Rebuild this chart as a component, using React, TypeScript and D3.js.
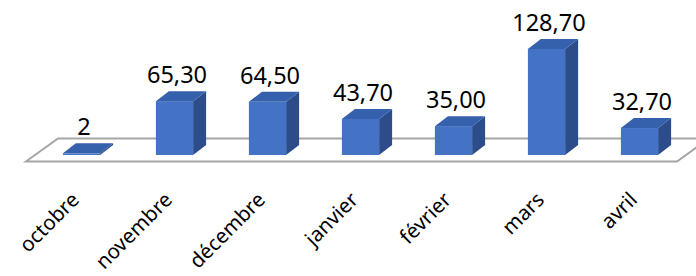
import React from 'react';
import * as d3 from 'd3';

const months = ['octobre', 'novembre', 'décembre', 'janvier', 'février', 'mars', 'avril'];
const values = [2, 65.3, 64.5, 43.7, 35.0, 128.7, 32.7];
const valueLabels = ['2', '65,30', '64,50', '43,70', '35,00', '128,70', '32,70'];

const App = () => {
  const width = 696;
  const height = 276;
  const font = '"Noto Sans", "Open Sans", sans-serif';

  // x positions of each month
  const x = d3.scaleBand()
    .domain(months)
    .range([35, 686])
    .paddingInner(0.6)
    .paddingOuter(0.3);

  // bar heights, bar base sits at y = 155
  const y = d3.scaleLinear()
    .domain([0, 140])
    .range([155, 39.6]);

  // depth offset of the 3d effect
  const dx = 13;
  const dy = -10;

  // floor parallelogram
  const floorFront = 161.5;
  const floorBack = 138.5;
  const floorLeft = 26;
  const floorRight = 677;
  const fdx = 32;
  const floor = `M${floorLeft},${floorFront} L${floorRight},${floorFront} L${floorRight + fdx},${floorBack} L${floorLeft + fdx},${floorBack} Z`;

  const bw = x.bandwidth();

  return (
    <svg width={width} height={height} style={{ position: 'absolute', left: 0, top: 0 }}>
      <rect width={width} height={height} fill="#fff" />
      <path d={floor} fill="#fff" stroke="#a6a6a6" strokeWidth={2} />

      {months.map((m, i) => {
        const x0 = x(m);
        const x1 = x0 + bw;
        const yb = y(0);
        const yt = y(values[i]);
        const side = `M${x1},${yb} L${x1 + dx},${yb + dy} L${x1 + dx},${yt + dy} L${x1},${yt} Z`;
        const top = `M${x0},${yt} L${x1},${yt} L${x1 + dx},${yt + dy} L${x0 + dx},${yt + dy} Z`;
        return (
          <g key={m}>
            <path d={side} fill="#2c4d8a" />
            <rect x={x0} y={yt} width={bw} height={yb - yt} fill="#4472c4" />
            <path d={top} fill="#3560ac" />
            <text
              x={x0 + bw / 2 + 2.5}
              y={yt + dy - 8}
              textAnchor="middle"
              fontFamily={font}
              fontSize={23.5}
              fill="#000"
            >
              {valueLabels[i]}
            </text>
            <text
              transform={`translate(${x0 + bw / 2 - 1},201) rotate(-45)`}
              textAnchor="end"
              fontFamily={font}
              fontSize={20.5}
              fill="#000"
            >
              {m}
            </text>
          </g>
        );
      })}
    </svg>
  );
};

export default App;
